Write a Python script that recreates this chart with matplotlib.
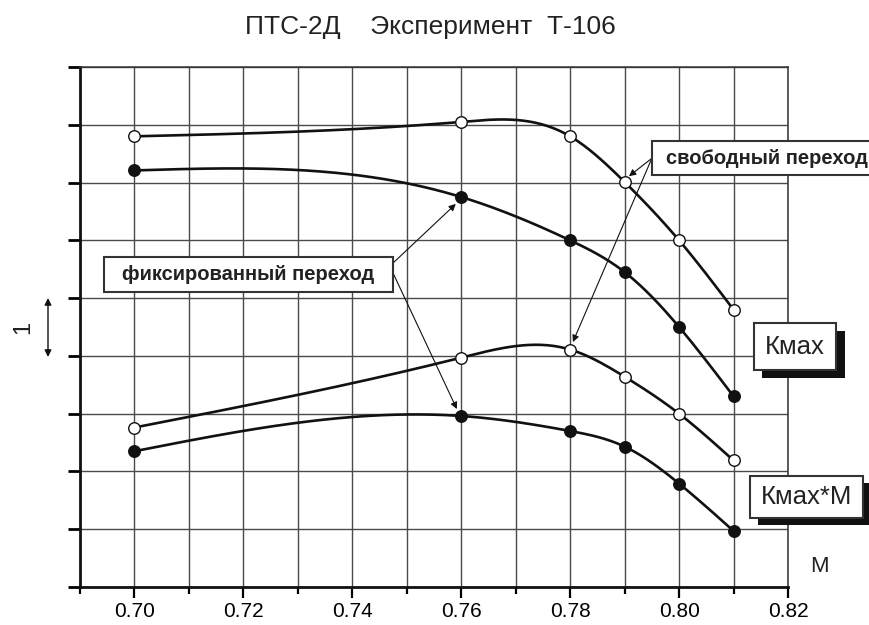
import numpy as np
import matplotlib
matplotlib.use("Agg")
import matplotlib.pyplot as plt
from matplotlib.patches import Rectangle, FancyArrowPatch
from matplotlib.ticker import MultipleLocator, FormatStrFormatter

plt.rcParams['font.family'] = ['Liberation Sans', 'DejaVu Sans']

# ---- data (grid units) ----
mach = [0.70, 0.76, 0.78, 0.79, 0.80, 0.81]
kmax_free = [7.80, 8.05, 7.80, 7.01, 6.00, 4.80]
kmax_fixed = [7.21, 6.75, 6.00, 5.45, 4.50, 3.30]
kmaxm_free = [2.76, 3.97, 4.11, 3.64, 3.00, 2.19]
kmaxm_fixed = [2.35, 2.96, 2.70, 2.43, 1.79, 0.97]

xticks = [0.70, 0.72, 0.74, 0.76, 0.78, 0.80, 0.82]
title = "ПТС-2Д    Эксперимент  Т-106"
lbl_fixed = "фиксированный переход"
lbl_free = "свободный переход"
lbl_k = "Кмах"
lbl_km = "Кмах*М"


def natural_spline(x, y, n=200):
    x = np.asarray(x, float); y = np.asarray(y, float)
    m = len(x); h = np.diff(x)
    A = np.zeros((m, m)); r = np.zeros(m)
    A[0, 0] = 1; A[-1, -1] = 1
    for i in range(1, m - 1):
        A[i, i - 1] = h[i - 1]; A[i, i] = 2 * (h[i - 1] + h[i]); A[i, i + 1] = h[i]
        r[i] = 3 * ((y[i + 1] - y[i]) / h[i] - (y[i] - y[i - 1]) / h[i - 1])
    c = np.linalg.solve(A, r)
    b = np.zeros(m - 1); d = np.zeros(m - 1)
    for i in range(m - 1):
        b[i] = (y[i + 1] - y[i]) / h[i] - h[i] * (2 * c[i] + c[i + 1]) / 3
        d[i] = (c[i + 1] - c[i]) / (3 * h[i])
    xs = np.linspace(x[0], x[-1], n)
    idx = np.clip(np.searchsorted(x, xs) - 1, 0, m - 2)
    dx = xs - x[idx]
    ys = y[idx] + b[idx] * dx + c[idx] * dx ** 2 + d[idx] * dx ** 3
    return xs, ys


fig = plt.figure(figsize=(8.7, 6.25), dpi=100)
ax = fig.add_axes([80 / 870, 1 - 587 / 625, 708 / 870, 520 / 625])
ax.set_xlim(0.69, 0.82)
ax.set_ylim(0, 9)

ax.xaxis.set_major_locator(MultipleLocator(0.02))
ax.xaxis.set_minor_locator(MultipleLocator(0.01))
ax.xaxis.set_major_formatter(FormatStrFormatter('%.2f'))
ax.set_xticks(xticks)
ax.yaxis.set_major_locator(MultipleLocator(1))
ax.set_yticklabels([])
ax.tick_params(axis='x', which='major', length=8, width=1.6, labelsize=15, pad=3, direction='out')
ax.tick_params(axis='x', which='minor', length=4.8, width=1.6, direction='out')
ax.tick_params(axis='y', which='major', length=8.5, width=2.0, direction='out')
ax.grid(True, which='both', color='#4a4a4a', lw=1.0)
ax.set_axisbelow(True)
for s in ['left', 'bottom']:
    ax.spines[s].set_linewidth(2.0)
    ax.spines[s].set_color('#111111')
for s in ['top', 'right']:
    ax.spines[s].set_linewidth(1.1)
    ax.spines[s].set_color('#333333')

for ys, filled in [(kmax_free, False), (kmax_fixed, True), (kmaxm_free, False), (kmaxm_fixed, True)]:
    sx, sy = natural_spline(mach, ys)
    ax.plot(sx, sy, color='#111111', lw=1.9, zorder=3)
    ax.plot(mach, ys, 'o', ms=8.3, mec='#111111', mew=1.0,
            mfc='#111111' if filled else 'white', zorder=4, clip_on=False)

fig.text(430 / 870, 1 - 27 / 625, title, ha='center', va='center', fontsize=19, color='#222222')
ax.text(0.8257, 0.36, "M", ha='center', va='center', fontsize=16, color='#222222', clip_on=False)
fig.text(23 / 870, 1 - 327 / 625, "1", rotation=90, ha='center', va='center', fontsize=17, color='#222222')
fig.patches.append(FancyArrowPatch((48, 625 - 298), (48, 625 - 357), transform=None,
                                   arrowstyle='<|-|>', lw=1.0, color='#111111', mutation_scale=10,
                                   shrinkA=0, shrinkB=0))

# annotation boxes
def box(x0, x1, y0, y1, shadow=None):
    if shadow is not None:
        dx, dy = shadow
        ax.add_patch(Rectangle((x0 + dx, y0 - dy), x1 - x0, y1 - y0, facecolor='#111111',
                               edgecolor='none', zorder=6, clip_on=False))
    ax.add_patch(Rectangle((x0, y0), x1 - x0, y1 - y0, facecolor='white',
                           edgecolor='#333333', lw=1.5, zorder=7, clip_on=False))

box(0.6944, 0.7474, 5.10, 5.71)
ax.text(0.7209, 5.41, lbl_fixed, ha='center', va='center', fontsize=14.5, fontweight='bold',
        color='#222222', zorder=8, clip_on=False)
box(0.7951, 0.8355, 7.13, 7.72)
ax.text(0.7976, 7.42, lbl_free, ha='left', va='center', fontsize=14.5, fontweight='bold',
        color='#222222', zorder=8, clip_on=False)
box(0.8137, 0.8289, 3.75, 4.57, shadow=(0.0015, 0.14))
ax.text(0.8213, 4.16, lbl_k, ha='center', va='center', fontsize=18.5, color='#222222', zorder=8, clip_on=False)
box(0.8131, 0.8337, 1.19, 1.92, shadow=(0.0013, 0.12))
ax.text(0.8234, 1.56, lbl_km, ha='center', va='center', fontsize=18.5, color='#222222', zorder=8, clip_on=False)

ap = dict(arrowstyle='-|>', lw=0.8, color='#111111', mutation_scale=10, shrinkA=0, shrinkB=0)
ax.annotate("", xy=(0.7590, 6.63), xytext=(0.7474, 5.60), arrowprops=ap, zorder=5)
ax.annotate("", xy=(0.7592, 3.08), xytext=(0.7474, 5.45), arrowprops=ap, zorder=5)
ax.annotate("", xy=(0.7908, 7.11), xytext=(0.7950, 7.42), arrowprops=ap, zorder=5)
ax.annotate("", xy=(0.7805, 4.24), xytext=(0.7950, 7.42), arrowprops=ap, zorder=5)

fig.savefig("out.png", dpi=100)
